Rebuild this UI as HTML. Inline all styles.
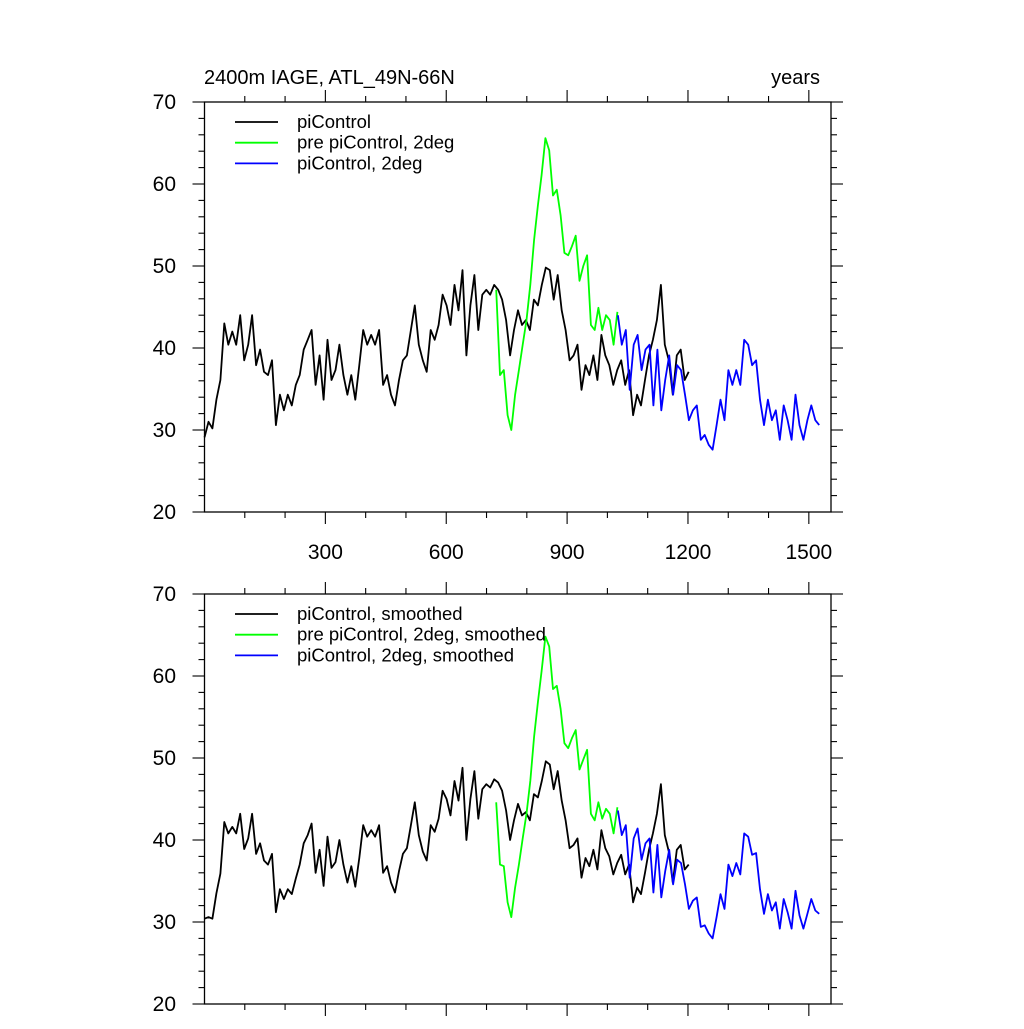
<!DOCTYPE html>
<html><head><meta charset="utf-8"><style>
body{margin:0;background:#fff;}
svg text{font-family:"Liberation Sans",sans-serif;fill:#000;}
</style></head><body>
<svg id="chart" width="1024" height="1024" xmlns="http://www.w3.org/2000/svg">
<text x="204" y="84" font-size="20">2400m IAGE, ATL_49N-66N</text>
<text x="820" y="84" font-size="20" text-anchor="end">years</text>
</svg>
<script>
const blackStart = 0, blackStep = 9.85;
const blackVals = [29.1,31.0,30.2,33.7,36.1,43.0,40.4,42.0,40.4,44.0,38.5,40.4,44.0,37.9,39.8,37.1,36.7,38.5,30.6,34.3,32.4,34.3,33.0,35.5,36.7,39.8,41.0,42.2,35.5,39.1,33.7,41.0,36.1,37.3,40.4,36.7,34.3,36.7,33.7,37.9,42.2,40.4,41.6,40.4,42.2,35.5,36.7,34.3,33.0,36.1,38.5,39.1,42.2,45.2,40.4,38.5,37.1,42.2,41.0,42.8,46.5,45.2,42.8,47.7,44.6,49.5,39.1,45.2,48.9,42.2,46.5,47.1,46.5,47.7,47.1,45.9,43.4,39.1,42.2,44.6,42.8,43.4,42.2,45.9,45.2,47.7,49.8,49.5,45.9,48.9,44.6,42.2,38.5,39.1,40.4,34.9,37.9,36.7,39.1,36.1,41.6,39.1,37.9,35.5,37.3,38.5,35.5,37.3,31.8,34.3,33.0,36.1,39.1,41.0,43.4,47.7,40.4,38.5,34.3,39.1,39.8,36.1,37.1];
const greenStart = 724, greenStep = 9.4;
const greenVals = [47.1,36.7,37.3,31.8,30.0,34.3,37.3,40.4,43.4,47.7,53.2,57.4,61.1,65.6,64.1,58.6,59.3,56.2,51.6,51.3,52.4,53.7,48.2,50.0,51.3,42.8,42.2,44.9,42.2,44.0,43.4,40.4,44.4];
const blueStart = 1026, blueStep = 9.8;
const blueVals = [44.0,40.4,42.2,34.9,40.4,41.6,37.3,39.8,40.4,33.0,39.8,32.4,36.1,39.1,34.3,37.9,37.3,34.3,31.2,32.4,33.0,28.8,29.4,28.2,27.6,30.6,33.7,31.2,37.3,35.5,37.3,35.5,41.0,40.4,37.9,38.5,33.7,30.6,33.7,31.2,32.4,28.8,33.0,31.2,28.8,34.3,30.6,28.8,31.2,33.0,31.2,30.6];
const blackSmooth = [30.4,30.6,30.4,33.5,35.9,42.2,40.8,41.6,40.8,43.2,38.9,40.2,43.2,38.3,39.6,37.5,37.0,38.3,31.2,34.0,32.8,34.0,33.4,35.3,37.0,39.6,40.6,42.0,36.0,38.8,34.4,40.4,36.6,37.3,40.0,37.0,34.8,36.8,34.3,37.8,41.8,40.4,41.2,40.4,41.8,36.0,36.8,34.8,33.6,36.2,38.3,39.0,41.8,44.6,40.6,38.6,37.5,41.8,41.0,42.6,46.0,45.0,43.0,47.2,44.8,48.8,40.0,45.0,48.4,42.6,46.2,46.8,46.4,47.4,47.0,46.0,43.6,40.0,42.4,44.4,43.0,43.4,42.4,45.6,45.2,47.2,49.6,49.2,46.2,48.4,44.8,42.4,39.0,39.4,40.2,35.4,37.8,36.8,38.8,36.4,41.2,39.0,38.0,35.8,37.2,38.2,35.8,37.0,32.4,34.2,33.4,36.0,38.8,40.8,43.2,46.8,40.6,38.6,34.8,38.8,39.4,36.4,37.0];
const greenSmooth = [44.6,37.0,36.8,32.4,30.6,34.2,37.0,40.2,43.2,47.2,52.6,56.8,60.6,64.8,63.6,58.4,58.8,56.0,51.8,51.2,52.4,53.4,48.6,49.8,51.0,43.2,42.4,44.6,42.6,43.8,43.2,40.8,44.0];
const blueSmooth = [43.6,40.6,41.8,35.4,40.2,41.4,37.6,39.6,40.2,33.6,39.4,33.0,36.2,38.8,34.6,37.6,37.2,34.6,31.6,32.6,33.0,29.4,29.6,28.6,28.0,30.6,33.4,31.6,37.0,35.6,37.2,35.8,40.8,40.4,38.2,38.4,34.0,31.0,33.4,31.4,32.4,29.2,32.8,31.2,29.2,33.8,30.8,29.2,31.0,32.8,31.4,31.0];
const xTicks = [300,600,900,1200,1500];
const yTicks = [20,30,40,50,60,70];

const NS = "http://www.w3.org/2000/svg";
const svg = document.getElementById('chart');
const X0 = 204.5, X1 = 831, XMAX = 1555;
function sx(v){ return X0 + v*(X1-X0)/XMAX; }
function mk(tag, attrs, parent){ const e=document.createElementNS(NS,tag); for(const k in attrs) e.setAttribute(k,attrs[k]); (parent||svg).appendChild(e); return e; }

function panel(top, bottom, series, legend, showXLabels, pname){
  const g = mk('g',{});
  
  
  const sy = v => bottom - (v-20)*(bottom-top)/50;
  series.forEach(s=>{
    let d='';
    s.vals.forEach((v,i)=>{ d += (i?'L':'M') + sx(s.start + i*s.step).toFixed(1) + ',' + sy(v).toFixed(1); });
    const p = mk('path',{d:d, fill:'none', stroke:s.color, 'stroke-width':1.8, 'stroke-linejoin':'round'}, g);
    
    
  });
  const fr = mk('rect',{x:X0,y:top,width:X1-X0,height:bottom-top,fill:'none',stroke:'#000','stroke-width':1.3}, g);
  
  
  for(let v=100; v<XMAX; v+=100){
    const major = v%300===0, L = major?12:6, x=sx(v);
    mk('line',{x1:x,x2:x,y1:bottom,y2:bottom+L,stroke:'#000','stroke-width':1.1}, g);
    mk('line',{x1:x,x2:x,y1:top,y2:top-L,stroke:'#000','stroke-width':1.1}, g);
  }
  if(showXLabels){
    xTicks.forEach(v=>{
      const t = mk('text',{x:sx(v),y:bottom+47,'font-size':21,'text-anchor':'middle'}, g);
      t.textContent = v;
      
      
    });
  }
  for(let v=20; v<=70; v+=2){
    const major = v%10===0, L = major?12:6, y=sy(v);
    mk('line',{x1:X0,x2:X0-L,y1:y,y2:y,stroke:'#000','stroke-width':1.1}, g);
    mk('line',{x1:X1,x2:X1+L,y1:y,y2:y,stroke:'#000','stroke-width':1.1}, g);
  }
  yTicks.forEach(v=>{
    const t = mk('text',{x:176,y:sy(v)+7,'font-size':21,'text-anchor':'end'}, g);
    t.textContent = v;
    
    
  });
  legend.forEach((l,i)=>{
    const y = top + 20 + i*20.7;
    const ln = mk('line',{x1:235,x2:278,y1:y,y2:y,stroke:l.color,'stroke-width':1.8}, g);
    
    
    const t = mk('text',{x:297,y:y+6,'font-size':18.5}, g);
    t.textContent = l.label;
    
    
  });
}

panel(102, 512, [
  {name:'picontrol-line', color:'#000', vals:blackVals, start:blackStart, step:blackStep},
  {name:'pre-picontrol-2deg-line', color:'#00ff00', vals:greenVals, start:greenStart, step:greenStep},
  {name:'picontrol-2deg-line', color:'#0000ff', vals:blueVals, start:blueStart, step:blueStep}
], [
  {color:'#000', label:'piControl'},
  {color:'#00ff00', label:'pre piControl, 2deg'},
  {color:'#0000ff', label:'piControl, 2deg'}
], true, 'top-panel');

panel(594, 1004, [
  {name:'picontrol-smoothed-line', color:'#000', vals:blackSmooth, start:blackStart, step:blackStep},
  {name:'pre-picontrol-2deg-smoothed-line', color:'#00ff00', vals:greenSmooth, start:greenStart, step:greenStep},
  {name:'picontrol-2deg-smoothed-line', color:'#0000ff', vals:blueSmooth, start:blueStart, step:blueStep}
], [
  {color:'#000', label:'piControl, smoothed'},
  {color:'#00ff00', label:'pre piControl, 2deg, smoothed'},
  {color:'#0000ff', label:'piControl, 2deg, smoothed'}
], false, 'bottom-panel');
</script>
</body></html>
